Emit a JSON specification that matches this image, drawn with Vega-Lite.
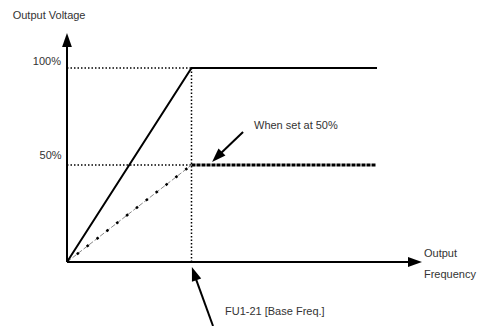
{
  "$schema": "https://vega.github.io/schema/vega-lite/v6.json",
  "width": 477,
  "height": 326,
  "autosize": {"type": "none"},
  "padding": 0,
  "background": "white",
  "config": {"view": {"stroke": null}},
  "datasets": {
    "axes": [
      {"id": "y", "o": 0, "f": 0, "v": 0},
      {"id": "y", "o": 1, "f": 0, "v": 111.9},
      {"id": "x", "o": 0, "f": 0, "v": 0},
      {"id": "x", "o": 1, "f": 275.5, "v": 0}
    ],
    "guides": [
      {"id": "g100", "o": 0, "f": 0, "v": 100},
      {"id": "g100", "o": 1, "f": 100, "v": 100},
      {"id": "g50", "o": 0, "f": 0, "v": 50},
      {"id": "g50", "o": 1, "f": 100, "v": 50},
      {"id": "gbase", "o": 0, "f": 100, "v": 0},
      {"id": "gbase", "o": 1, "f": 100, "v": 100}
    ],
    "full": [
      {"o": 0, "f": 0, "v": 0},
      {"o": 1, "f": 100, "v": 100},
      {"o": 2, "f": 249, "v": 100}
    ],
    "halfRamp": [
      {"o": 0, "f": 0, "v": 0},
      {"o": 1, "f": 100, "v": 50}
    ],
    "halfFlat": [
      {"o": 0, "f": 100, "v": 50},
      {"o": 1, "f": 248, "v": 50}
    ],
    "pointers": [
      {"id": "set", "o": 0, "f": 141.4, "v": 67.0},
      {"id": "set", "o": 1, "f": 122.1, "v": 55.2},
      {"id": "base", "o": 0, "f": 117.3, "v": -33},
      {"id": "base", "o": 1, "f": 103.6, "v": -8.8}
    ],
    "heads": [
      {"f": 0, "v": 114.4, "dir": 0},
      {"f": 279.5, "v": 0, "dir": 90},
      {"f": 120.5, "v": 54.1, "dir": 225},
      {"f": 102.2, "v": -6.0, "dir": 340.4}
    ],
    "tickLabels": [
      {"f": -4.8, "v": 103.1, "t": "100%"},
      {"f": -4.3, "v": 54.6, "t": "50%"}
    ],
    "notes": [
      {"f": -43.6, "v": 127.0, "t": "Output Voltage"},
      {"f": 150.2, "v": 70.1, "t": "When set at 50%"},
      {"f": 286.7, "v": 4.1, "t": "Output"},
      {"f": 286.7, "v": -6.7, "t": "Frequency"},
      {"f": 126.9, "v": -25.6, "t": "FU1-21 [Base Freq.]"}
    ]
  },
  "encoding": {
    "x": {"field": "f", "type": "quantitative", "scale": {"domain": [-53.8, 329.3], "nice": false, "zero": false}, "axis": null},
    "y": {"field": "v", "type": "quantitative", "scale": {"domain": [-33.0, 135.05], "nice": false, "zero": false}, "axis": null}
  },
  "layer": [
    {
      "data": {"name": "guides"},
      "mark": {"type": "line", "color": "black", "strokeWidth": 1.5, "strokeDash": [1.5, 2], "clip": false},
      "encoding": {"detail": {"field": "id"}, "order": {"field": "o"}}
    },
    {
      "data": {"name": "halfRamp"},
      "mark": {"type": "line", "color": "#888888", "strokeWidth": 1, "strokeDash": [5, 2], "clip": false},
      "encoding": {"order": {"field": "o"}}
    },
    {
      "data": {"name": "halfRamp"},
      "mark": {"type": "line", "color": "black", "strokeWidth": 2.5, "strokeDash": [2.5, 10], "clip": false},
      "encoding": {"order": {"field": "o"}}
    },
    {
      "data": {"name": "halfFlat"},
      "mark": {"type": "line", "color": "black", "strokeWidth": 3, "strokeDash": [4, 1], "clip": false},
      "encoding": {"order": {"field": "o"}}
    },
    {
      "data": {"name": "full"},
      "mark": {"type": "line", "color": "black", "strokeWidth": 2, "clip": false},
      "encoding": {"order": {"field": "o"}}
    },
    {
      "data": {"name": "axes"},
      "mark": {"type": "line", "color": "black", "strokeWidth": 2, "clip": false},
      "encoding": {"detail": {"field": "id"}, "order": {"field": "o"}}
    },
    {
      "data": {"name": "pointers"},
      "mark": {"type": "line", "color": "black", "strokeWidth": 2, "clip": false},
      "encoding": {"detail": {"field": "id"}, "order": {"field": "o"}}
    },
    {
      "data": {"name": "heads"},
      "mark": {"type": "point", "shape": "M0,-1L0.7,1L-0.7,1Z", "filled": true, "color": "black", "opacity": 1, "size": 196, "clip": false},
      "encoding": {"angle": {"field": "dir", "type": "quantitative", "scale": null}}
    },
    {
      "data": {"name": "tickLabels"},
      "mark": {"type": "text", "align": "right", "baseline": "middle", "font": "Liberation Sans", "fontSize": 11, "color": "#333333"},
      "encoding": {"text": {"field": "t"}}
    },
    {
      "data": {"name": "notes"},
      "mark": {"type": "text", "align": "left", "baseline": "middle", "font": "Liberation Sans", "fontSize": 11, "color": "#333333"},
      "encoding": {"text": {"field": "t"}}
    }
  ]
}
